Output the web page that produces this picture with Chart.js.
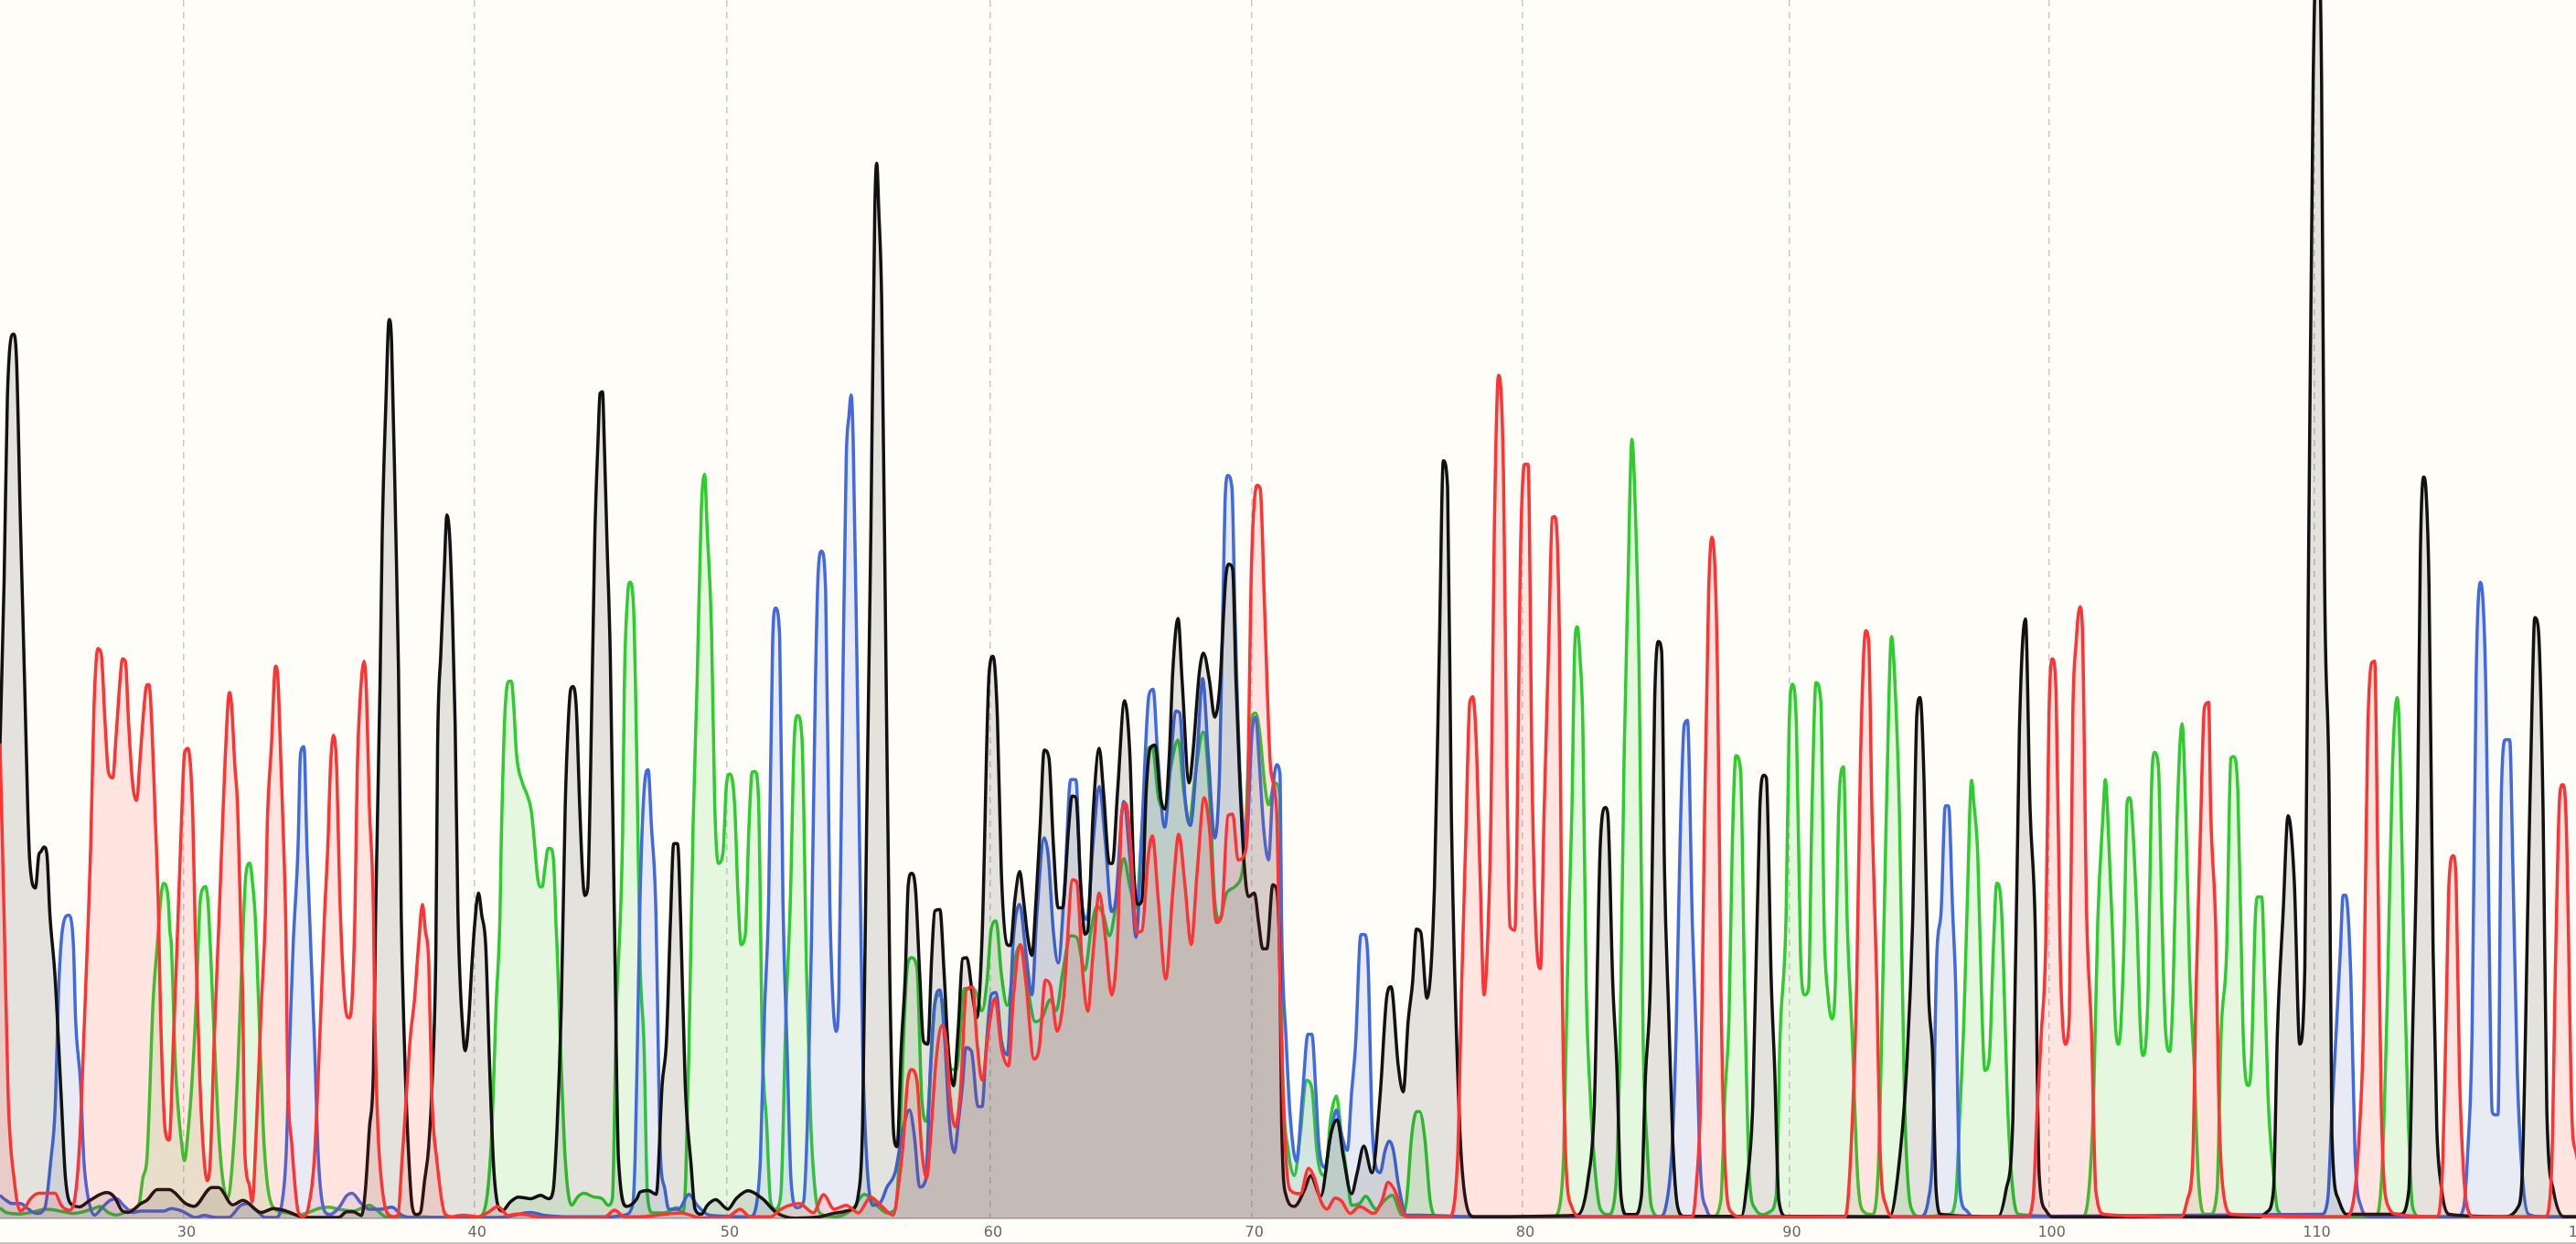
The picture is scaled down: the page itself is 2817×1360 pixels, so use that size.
<!DOCTYPE html>
<html>
<head>
<meta charset="utf-8">
<title>Chromatogram</title>
<script src="https://cdn.jsdelivr.net/npm/chart.js@4"></script>
<style>
    html, body { margin: 0; padding: 0; width: 2817px; height: 1360px; overflow: hidden; background: #fffdf7; }
    #chromatogram { display: block; position: absolute; left: 0; top: 0; }
    #foot { position: absolute; left: 0; bottom: 0; width: 2817px; height: 2px; background: #c4c4c4; }
</style>
</head>
<body>
<canvas id="chromatogram" width="2857" height="1360"></canvas>
<div id="foot"></div>
<script>
// base numbers under the trace, sequencer spacing is not even
const tickLabels = ['30', '40', '50', '60', '70', '80', '90', '100', '110', '120'];
const tickScans = [111.8, 288.7, 442.4, 602.7, 761.7, 926.6, 1088.8, 1247, 1408.3, 1570];

// [scan, signal], one list per dye
const blackTrace = [
    [0,288],[2.5,387.6],[4.5,499.5],[8.2,538],[10,524],[12.4,425],[13.7,375],[15,325.6],[17,246],[18.1,217.5],[21.6,201],[23.6,221],[24.8,223],[26.8,226],[28.6,221],[30.3,186],[33.5,147],[37.3,73],[39.8,25],[44.2,8],
    [48.4,7],[54.7,11],[65,15.7],[69.6,13],[74.5,4.5],[78,3.6],[85.7,9],[89.4,11],[95.7,17.5],[103,17.5],[113,9],[118,7.3],[129,18.8],[133,18.8],[141.6,8.2],[147.8,11],[159,3.6],[166.5,6],[174,4.5],[186,0.5],[206,0.5],[211,4],[215,4],[220,1.7],[222.4,17.5],
    [224.8,54.6],[227.3,92],[228.6,184.5],[231.3,325.5],[232.6,415],[234.8,494.5],[236.8,547],[238.3,534],[240.8,422],[242.5,335.5],[244.2,184.5],[246,110],[248.4,45],[251,6.4],[253.4,2.3],[255.9,3.6],[258.4,23],[260.9,43.5],[263.4,92],[265.3,166],
    [266.3,286],[268.3,344],[270.3,392.6],[272,428],[273.8,412.5],[275.3,370],[277,300.7],[278.7,186],[282,110],[283.2,102],[285.2,119.6],[287,151],[288.7,176.5],[291.2,198],[293.2,184.5],[295.6,166],[298,92],[300.6,28.6],[305.6,4.5],
    [310.6,10],[315.5,13],[323,12],[329,14],[334,12],[336.6,16.6],[339,54.6],[341.6,129],[344,251],[345.8,300.7],[347.3,321.8],[348.8,323.6],[350.8,309.4],[352.8,251],[354.5,211],[355.8,196.4],[357.7,201.3],[359.5,276],[362,415],[364,474.6],[365.2,502],[366.7,503],[367.7,474.6],[369.4,412.5],[371.4,343],[373.9,184.5],[376.4,36],[381.4,7.3],[387.6,12],
    [389.5,16],[394.5,17],[399.4,14.6],[403,81.6],[405.6,108],[408,180],[410,228],[412.4,228],[414.3,180],[417,82],[420.6,32.5],[423,5.6],[426.8,2.5],[430.5,8],[435.5,11.4],[443,5.6],[448,12],[455.3,16.8],[464,12],[472.7,3.4],[484,0.2],[499,1],[508.8,3.4],[518.7,5.6],[522.4,14.6],[525,59],[527.4,238],[530,417],[532.4,614],[533.6,642],[534.8,614],[536.6,558],[539.3,328],[541.5,149],[544,50.3],[546,43.6],
    [548.5,104],[551,149],[552.7,202],[554.7,210],[557.2,200],[559.7,149],[562,108],[564.7,106],[567,158],[568.9,187],[572,188],[574.6,149],[577,104],[580.3,80.7],[583.3,117.4],[585.8,158],[588.3,158.6],[592,135],[594.5,122],[597.7,171],[602,332],[604.4,342],[607,305],[609.4,211],[613,166.6],[615,166],[617.6,193.4],[620.6,211],[623,193],[625.5,171],[628,160],[630.5,193.4],[633,238],[635.5,285],[638.4,280],[641,229],[644,189],[646.6,189],[650.4,238],[652.4,257],[654.8,256],[657.8,202],[660.3,173],[662,175],[665.3,247],[669,286],[671.5,260.5],[675.2,216],[677,216],[680.2,260.5],[684.4,315],[687.6,283],[690,211],[692.6,191],[695,193.4],[697.6,260.5],[700,286],[703,288],[706.3,256],[708.8,249],[711.7,283],[713.7,332],[717,365],[719.4,327.6],[723.7,265],[726,283],[729.9,332],[732.4,344],[736,327.6],[739.3,305],[742.3,323],[746,390],[748,398],[750.2,395],[752.2,327.6],[754.2,274],[757.2,216],[759.7,195.7],[763.4,198],[766,180],[768.5,164],[771,164],[774.6,203],[777,200],[779,149],
    [780,58.4],[782.7,14],[787.7,7.3],[794,17.5],[797.6,26],[803.8,13.5],[810,51.6],[813.8,60],[817.5,38],[822.5,15],[826,27.8],[830,44],[835,27.8],[840,75.5],[844,135],[846.6,141],[851,92.5],[854,77],[857,120],[859.7,143.6],[862,176],[864.7,174],[868.4,134],[873,201.5],[876,348],[878.4,461],[881,445],[883.3,246],[888.3,58],[892,10.7],[897,1],
    [960,2],[966.6,24.4],[970.3,68.6],[974,229],[977,250],[978.5,246],[981.5,143.6],[984,92.5],[986.5,14],[990,2.3],[995,2.3],[999,14],[1001.4,86],[1004.6,150.4],[1007,314],[1009.3,351],[1011.3,344.6],[1013,212],[1015.5,126.6],[1018,48],[1021,7],[1025,1.2],[1059.7,1.2],[1063.5,24.4],[1066.7,68.6],[1071,249],[1073.4,269.7],[1075,268],[1078,143.6],[1080,92.5],[1082.6,10.7],[1087,1.2],
    [1150,1],[1156.6,41.4],[1160.4,92.5],[1164,180],[1166.6,307],[1168.6,317],[1171,265],[1173.7,138],[1176.2,99],[1178.3,17],[1181.3,2.5],[1216,1],[1220.8,17],[1225,60],[1229,297],[1232.7,364.6],[1235.5,249],[1238.6,179],[1241,27],[1245,5],[1248.7,1],
    [1375,1],[1379.8,4],[1383.6,17],[1386,113],[1389.5,186],[1392.5,245],[1396.3,205],[1399.6,106],[1402.7,152],[1405,403],[1407.8,693],[1410.3,780],[1412.9,693],[1414.7,393],[1417.5,258],[1419.2,51],[1423,12],[1428,2.5],
    [1461,2.5],[1466,17],[1468.3,113],[1471.4,258],[1473,403],[1475,451],[1476.5,442],[1478.3,384],[1480.8,162],[1483,56],[1485.4,22],[1490.5,2.5],[1524.8,1],[1532.5,7],[1535,27],[1538.8,210],[1541.4,331],[1542.6,365.5],[1544.7,360],[1547.7,249],[1550,65],[1554,17],[1560.5,1],[1590,1]
];

const redTrace = [
    [0,289],[2.5,184],[5,73],[8.7,23],[12.4,4.5],[15,6.4],[18.6,12],[23.6,15.3],[33.5,15.3],[37.3,8],[42,5],[44.7,8],[48.4,45],[51,110],[53.5,176],[55.2,226],[57.2,311],[59.6,346.7],[61.6,343.4],[64,300.7],[66,271.4],[68.6,268],[70.8,295.7],[73.3,330.5],[74.5,340.5],[76.3,339],[78.3,300.7],[80.7,264.7],[83.2,254.3],[85,276],[87.5,309.4],[89.4,324.8],[90.7,324.8],[92.4,300.7],[94.4,246],[96.4,189],[97.6,129],[99.4,73],[100.6,53],[103,47.6],[105.6,110],[108,173],[110.6,246],[112.3,283],[114.3,286],[117.3,246],[118.8,176],[121.7,82.5],[124.2,36],[126.2,23],[128,36],[130.4,110],[133.4,184.5],[135.4,238.6],[137.1,280.8],[139.6,320],[140.9,313],[142.9,276],[144.6,251],[146.6,176],[147.8,129],[149,40],[151.6,21],[153.5,10],[156,54.6],[159,129],[161.5,184.5],[162.7,241],[165.2,288],[167.7,336],[169,330.5],[171,276],[172.7,226],[174,176],[175,92],[177.6,45],[181.4,4.5],[184.6,1],[187.6,6.4],[191.3,36],[195,119.6],[197.5,184.5],[199.5,226],[201.2,276],[203,294],[205,271],[206.7,200],[208.7,150],[210.7,125],[212.4,122],[214.2,132.5],[216,184.5],[217.4,270.9],[219,313],[221.6,339],[223,320.6],[224.8,251],[227.3,186],[228,129],[230,54.6],[232.3,21],[236,2.7],[239.8,1],[242.2,2],[244.7,36],[246,54.6],[249.7,110],[252.2,132.5],[254.7,166],[257.1,191],[258.9,175],[260.9,156.6],[262.9,73],[265.8,36],[270.8,2.7],[274.5,1],[282,2],[290.7,1],[297,3.6],[303,7.3],[309.3,1.8],[314.3,2.7],[321.7,2],[330.4,0.5],[367.7,0.5],[374,5],[380,1],[389.5,1],
    [414.3,3.4],[426.8,0.3],[443,1],[450.4,5.6],[456.6,1],[469,1],[475.2,5.6],[486.4,9],[495,3.4],[501.3,14.5],[507.5,5.6],[515,8],[522.4,3.4],[529.9,13],[536,8],[543.5,2],[547.3,23.5],[549.7,46],[552.2,81.6],[554.7,90.6],[558,84],[561,41.4],[564,24.4],[566.4,50],[569.6,95],[573.3,117.4],[575.8,108],[578.3,72.7],[581.3,55.7],[584.5,77],[588.3,139.8],[592,140.7],[594.5,108.5],[597.7,84],[602,117.4],[605.6,134],[609.4,104],[613.8,92.8],[616.8,135],[621,166.6],[624.3,144],[629.3,97],[632.5,104],[636.2,145],[639.2,142],[643.4,113.8],[647.4,135],[652.8,206],[655.3,204.6],[659,148.7],[662,126],[665.3,162],[669,198],[672.7,171],[676.5,136],[680.2,171],[682.7,247],[685.2,252.5],[687.6,233.7],[692,174],[695,175],[698.8,220],[701.3,232.8],[705,193],[709.5,145.6],[713.7,198],[717.4,233.7],[721.2,202.4],[724.9,166.6],[728.6,211],[732.9,256],[736,238],[740.3,180],[743.5,184.5],[747.3,245],[750.2,246],[753.5,218],[758.4,225],[761.7,399],[765.1,446],[767,444],[769.6,372],[773.3,274],[777,247],[779,143.6],
    [781.5,58],[785,17.5],[791.4,15],[796.4,30.5],[800,24.4],[803.8,10.7],[807.6,5.6],[812.5,12.4],[816.3,10.7],[821.7,3],[827.4,7.3],[836,3],[841,10.7],[844.8,22],[848.6,17.5],[856,1],[882,1],[887,34.6],[889.6,143.6],[892,229],[894.5,314],[896.3,317.4],[898.3,293.5],[900.7,212],[903.2,136],[905.7,178],[907.4,246],[909.4,416],[912,513],[915,453.7],[917,280],[919,177.7],[921.9,175.3],[925.6,416],[928,458.8],[930,458.8],[932.5,263],[935.5,162],[937.5,152],[939.7,246],[942.5,348],[944.7,426.4],[946,427],[949.2,341],[950.4,177.7],[953,34.6],[956.6,7],[961.6,1],
    [1030,1],[1032.4,21],[1035,75.5],[1037.4,246],[1039.9,382],[1041.9,414.5],[1045.3,331],[1047.3,143.6],[1049.8,34.6],[1053.5,4],[1059.7,1],[1123,1],[1126.8,48],[1130,143.6],[1132.3,280],[1135.5,357.6],[1137.3,351],[1139.3,246],[1142.2,143.6],[1144.2,41.4],[1148,7.3],[1153,1],
    [1233.5,1],[1237.3,12],[1239.8,65],[1242.4,113.6],[1245,166.7],[1247,306.6],[1249,340.4],[1251.3,321],[1253.8,162],[1255.1,123],[1256.9,106],[1259.4,123],[1261.5,306.6],[1263.5,350],[1265.8,372],[1267.3,360],[1269.9,186],[1272.9,113.6],[1275.5,17],[1280.6,2.5],
    [1327.6,1],[1331.4,12],[1334.5,36],[1336.5,138],[1339,229],[1341.6,311],[1344.2,314],[1345.4,248.7],[1348.5,176],[1350.5,65],[1353,17],[1358.2,2.5],[1428,1],[1433.2,17],[1435.8,51],[1438.3,113.6],[1440.9,292],[1443.4,338],[1445.2,339],[1447.2,210],[1449.3,65],[1453.6,7],[1458.7,2.5],
    [1482.8,1],[1486.7,36],[1488.7,123],[1490.5,205],[1493,220.7],[1494.8,205],[1496.8,89.5],[1499.4,26.7],[1502,5],[1505.7,1],[1549,1],[1552.8,27],[1555.4,162],[1557.9,258],[1559.7,264],[1561.7,244],[1565.5,56],[1567.6,41],[1575,5],[1590,1]
];

const blueTrace = [
    [0,14],[3.7,11],[7.5,9],[12.4,9],[17.4,5.5],[22.4,3],[27.3,6.4],[31,36],[33.5,65.8],[36,147],[38.5,179],[41.7,184.5],[44.7,166],[46,121.4],[49,82.5],[51,36],[53.4,14],[57.6,2],[62,6.4],[67,11],[70.8,12],[75.8,7.3],[80.7,3.6],[85.7,4.5],[99.4,4.5],[104.3,6],[110.6,4.5],[119.3,0.5],[124.2,1.8],[131.7,0.5],[139,0.5],[146.6,8],[150.3,9],[156.5,4.5],[161.5,0.5],[167.7,0.5],[171.4,8],[174,36],[176.4,110],[178.4,166],[181.4,226],[182.9,283],[185,287],[186.8,226],[191.3,110],[193.8,36],[197.5,4.5],[200.7,2.3],[206.2,6.4],[211.2,14],[214.2,15.3],[219.9,9],[224.8,5.5],[231,5.5],[238.5,6.8],[244.7,1.8],[253.4,0.5],[293,0.5],[308,1],[323,3.6],[330.4,2],[347.8,1],[372.7,1],[380,2],[385,8],[386.5,36],[388,110],[389.5,193],[392,260.5],[394.5,273],[396.5,238],[399,193],[402,37],[404.4,19],[407,5.6],[413,5.6],[419.3,14.6],[424.3,8],[431.7,2],[456.6,1],[460.3,8],[462.8,37],[465.3,126],[467.8,193],[470.2,350],[472,371.4],[474.5,354.5],[476.5,193],[479,104],[481.4,23.5],[485,6.5],[489,10],[491.4,59],[493.9,171],[496.3,327.6],[498,394],[500,406],[502.5,381],[505,193],[506.8,135],[508.8,113.8],[510.5,135],[513,327.6],[515,461.8],[516.7,488.6],[518,501],[519.2,475],[521.7,327.6],[525,104],[527.4,37],[531.1,8],[536,10],[539.8,19],[544.8,28],[547.3,41.4],[549.7,55],[553.5,66],[556.5,50],[559.7,19],[563.4,23.5],[566.4,95],[569.6,135],[572,139],[575,108],[577.8,59],[580.8,40],[583.3,59],[585.8,81.6],[587.8,104],[591.2,101.8],[595.2,68],[597.7,68],[600.2,104],[603.2,136],[606.2,137.5],[609.4,108.5],[613,99.5],[616.8,171],[620.6,191],[624.3,162],[628,136],[631,184.5],[635.5,231.5],[638,220],[641,175.5],[644,155.4],[647.9,202],[651.6,267],[654.8,267],[657.8,198],[661.5,182],[665.3,229],[669,262.8],[672.7,229],[676.5,186.7],[679,193.4],[684,253.8],[687.6,220],[691.4,171],[695,238],[699.3,318.7],[701.8,322],[704.5,283],[708.8,238],[712.5,278.4],[715.5,308.8],[718,307.5],[721.2,256],[724.4,239],[728.6,283],[731.9,328.5],[735.3,283],[739.3,231.5],[742.3,274],[745.5,435],[747.3,452],[749.8,444],[751.5,372],[754.7,269.5],[758.4,229],[762,296],[764.2,305],[766.6,274],[769,238],[772,218],[774.6,260.5],[777,276],[779,270],
    [780,177.7],[782.7,109.5],[785,65],[789,34.6],[792.7,75.5],[796,112],[798.4,112],[800.9,75.5],[802.6,45],[806.3,31],[810,51.6],[813.3,66],[816.3,51.6],[820,41.4],[822.5,75.5],[825,106],[828.2,172.6],[830.4,172.6],[832.4,160.6],[835,58.4],[837.4,31],[839.9,27.8],[843,41.4],[845.6,47],[848,41.4],[851,21],[856,2],[863.5,2],[895.8,1],
    [1010,1],[1013.8,7],[1017.5,41],[1020,109.5],[1022.5,229],[1025,300],[1027,303],[1030,177.7],[1032.4,109.5],[1035,27.8],[1038.6,5.6],[1042.4,1],[1168.6,1],[1173.7,12],[1176.2,41],[1178.8,162],[1181.3,186],[1183.9,251],[1185.9,251],[1188.4,186],[1190.2,142.5],[1192.8,17],[1196.6,5],[1200.4,1],
    [1412.9,2.5],[1416.7,12],[1419.2,65],[1421.8,113.6],[1424.3,162],[1426,196.6],[1427.6,196.6],[1430.7,147],[1433.2,41],[1437,7],[1442,1],[1495.6,1],[1499.4,7],[1501.9,41],[1504.5,113.6],[1507,331],[1509.6,387],[1512.9,321],[1514.7,186],[1516.7,65],[1518.5,63],[1520.3,63],[1522.3,258],[1524.8,291.2],[1527.4,291.2],[1529.4,210],[1532,89.5],[1535,27],[1538.8,2.5],[1547.7,1],[1590,1]
];

const greenTrace = [
    [0,6.4],[3.7,3.6],[12.4,2.7],[18.6,3.6],[28.6,5.5],[41,3.6],[44.7,3],[57.1,6],[60.9,7.3],[65.8,3.6],[70.8,2],[79.5,5],[84.5,8.2],[87,25],[89.4,36],[93.2,132.5],[95.7,166],[97.8,193.9],[99.4,203.8],[100.6,203.3],[102.6,191],[103.3,176],[104.3,166],[106.8,92],[110.6,45],[112.3,35],[114.3,51],[116.8,82.5],[119.3,129],[121.7,191.4],[123.7,201],[125,202],[126.7,191.4],[127.5,176],[128,166],[130.4,110],[133,54.6],[135.4,25],[138.6,12],[141.6,36],[144.8,92],[148.3,184.5],[149.6,208.8],[152,216.2],[154,201],[155.3,184.5],[157.8,119.6],[160.2,54.6],[162.7,21],[166.5,6.4],[174,3.6],[181.4,2],[187.6,3.6],[193.8,6],[200,6.8],[206.2,5.5],[215,4.5],[224.8,8],[230,4.5],[234.8,1],[248.4,0.5],[258.4,1],[265.8,0.5],[288.2,0.5],[293.2,1.8],[296.9,17.5],[299.4,54.6],[301.9,129],[304.3,184.5],[305,226],[307.6,313],[310,326.8],[311.3,326.8],[312.6,313],[314.3,283],[318,264.7],[320.5,258.5],[323.5,247],[325.5,226],[327,208.8],[328.5,201.8],[330,201.8],[331.7,213.7],[333.6,225],[335,225],[337,216.2],[338.5,176],[339,166],[341.6,92],[344,36],[347.8,8],[351.5,13],[355.3,15.3],[361.5,13],[366.5,12],[370.2,8],[372.7,12],[375.2,129],[377.6,184.5],[378.9,233.6],[380,325.5],[382,379],[383.4,387],[385.6,371.5],[387.6,276],[389.5,157.7],
    [392,104],[394,14.6],[397,3.4],[404.4,3.4],[411.9,6.5],[415.6,3.4],[417.3,23.5],[419.3,104],[421.8,238],[424.3,327.6],[426.8,430.5],[428.8,452.8],[430.5,417],[433,359],[435,251.6],[437.2,216],[440,222.5],[442.2,265],[444.2,270.4],[447.1,251.6],[449.1,198],[451,166.6],[453.6,173],[455.8,238],[457.8,271.7],[459.6,271.7],[461.6,256],[464,104],[466.5,59],[469,10],[472,5.6],[475.2,14.6],[478.4,126.4],[481,193.4],[483.4,291.8],[485.4,306],[488.1,291.8],[490.9,148.7],[493.4,59],[496.3,14.6],[500,2.5],[508.8,1],[518.7,5.6],[526.1,14.6],[533.6,8],[539.8,3.4],[544.8,5.6],[547.3,37],[549.7,104],[552.2,153],[554.7,158.6],[558,153],[561,72.7],[564,59],[566.4,90.6],[568.9,131],[572,136],[575.8,117.4],[578.8,90.6],[582,90.6],[587,139.8],[593.2,139],[597.7,126.4],[600.7,144.3],[603.2,175.6],[606.2,181],[609.4,148.7],[613,129.5],[617.6,157.7],[621,166.6],[625.5,139.8],[630,119.6],[634.2,122],[639.2,133],[642.9,126.4],[646.6,148.7],[651.6,172],[655.3,171],[660.3,151],[664,175.6],[667.8,190],[671.5,184.5],[675.2,172],[679,189],[684,219],[687.6,202],[691.4,189],[694.6,229],[698.8,286],[701.3,287],[705,256],[708.8,249.4],[712.5,274],[717,291],[720.4,260.5],[723.7,240.4],[727.4,269.5],[732.3,296],[736,260.5],[739.3,193.4],[742.3,182],[746.5,198],[752.2,202.4],[757.2,220],[761,300.8],[764.2,307.5],[766.6,296],[769.6,265],[772,251.6],[775.8,265],[779,256],
    [780.2,109.5],[784,41.4],[787.7,26],[791.4,51.6],[795,84],[798.4,79],[801.4,41.4],[803.8,27.8],[806.3,26],[810,62],[813.3,74.4],[816.3,51.6],[820,24.4],[822.5,8],[827.4,9],[831.2,13.5],[837.4,5.6],[842.4,10.7],[847.3,14],[853.5,2],[856,10.7],[859.3,51.6],[862.2,65],[864,65],[867.2,48],[870.4,10.7],[874.7,1],
    [945.5,1],[949.2,7.3],[951.7,41.4],[954.2,160.6],[956.6,246],[958.4,348],[959.9,360],[961.6,341],[963.3,300],[965.3,143.6],[967.8,75.5],[970.3,34.6],[974,5.6],[979,2.3],[983.2,17.5],[986,109.5],[988.4,280],[990.7,382],[993.2,474],[995.2,433],[997.6,331],[1000,109.5],[1002.6,41.4],[1005,7.3],[1010,1],[1042.4,1],[1047.3,10.7],[1049.8,75.5],[1052.3,123],[1054.3,229],[1056.5,281.6],[1059.3,273],[1061.7,143.6],[1064.7,24.4],[1068.4,5.6],[1073.4,2.3],[1077,4],[1081,14],[1083.3,109.5],[1087,184.5],[1088.8,297],[1090.8,325],[1093.3,300],[1095.8,160.6],[1098.3,136],[1100.7,140],[1102.7,246],[1105.2,326],[1108.2,314],[1110.2,177.7],[1112.4,136.8],[1115,121.5],[1117,143.6],[1118.9,246],[1121.9,274.8],[1124.3,177.7],[1127.3,109.5],[1130.6,24.4],[1134.3,4],[1139.3,2.3],[1143,27.8],[1145.5,126.6],[1148,246],[1151.2,354],[1153,331],[1156,246],[1159,75.5],[1162.9,7],[1168.6,1],
    [1186.4,2.5],[1190.2,12],[1192.8,65],[1195.3,123],[1197.1,186],[1199.9,266.6],[1201.2,253.5],[1203.7,220],[1206.3,123],[1208,90],[1210.6,96.7],[1213.1,162],[1215.2,204],[1216.4,203],[1218.2,186],[1222,65],[1225,17],[1228.4,2.5],[1267.8,1],[1271.7,22],[1274.2,75],[1276.7,181],[1279.8,244],[1281.3,267],[1282.6,248.7],[1285.6,176],[1287.4,118.4],[1289.5,106],[1292.5,162],[1294.6,253.5],[1295.8,256],[1297.1,251],[1300.2,191],[1302.7,113.6],[1304,99],[1307.3,137.7],[1309.3,258],[1311,283.5],[1313.6,275],[1315.7,186],[1318,113.6],[1320.5,101.5],[1322.5,137.7],[1325,244],[1328,301],[1330.2,248.7],[1332.7,147],[1335.3,94],[1337.8,27],[1341.6,2.5],[1345.4,2.5],[1349.3,17],[1351.8,113.6],[1355.1,162],[1357.7,280],[1359.4,281],[1362,258.4],[1365,118.4],[1366.3,89.5],[1368.3,80.8],[1370.1,94],[1372.7,186],[1374.2,195.6],[1376.5,195.6],[1378.5,137.7],[1380.3,75],[1383.6,27],[1386.2,5],[1392.5,1],[1446,1],[1449.8,31.5],[1453,137.7],[1456,273],[1459,317],[1460.7,282.5],[1463,162],[1465.5,65],[1468.3,7],[1472.7,1],[1590,1]
];

function traceDataset(label, trace, color, fillColor) {
    return {
        label: label,
        data: trace.map(function (p) { return { x: p[0], y: p[1] }; }),
        borderColor: color,
        backgroundColor: fillColor,
        borderWidth: 3.5,
        borderJoinStyle: 'round',
        pointRadius: 0,
        cubicInterpolationMode: 'monotone',
        fill: 'origin'
    };
}

document.addEventListener('DOMContentLoaded', function () {
    let ctx = document.getElementById('chromatogram').getContext('2d');
    new Chart(ctx, {
        type: 'line',
        data: {
            // first dataset ends up on top
            datasets: [
                traceDataset('T', redTrace, '#ff3333', 'rgba(255,48,48,0.12)'),
                traceDataset('G', blackTrace, '#111111', 'rgba(30,30,30,0.12)'),
                traceDataset('C', blueTrace, '#4169e1', 'rgba(65,105,225,0.12)'),
                traceDataset('A', greenTrace, '#2ecc2e', 'rgba(46,204,46,0.12)')
            ]
        },
        options: {
            responsive: false,
            animation: false,
            devicePixelRatio: 1,
            layout: { padding: 0 },
            plugins: { legend: { display: false }, title: { display: false }, tooltip: { enabled: false } },
            scales: {
                x: {
                    type: 'linear',
                    min: 0,
                    max: 1590,
                    afterBuildTicks: function (scale) {
                        scale.ticks = tickScans.map(function (v) { return { value: v }; });
                    },
                    afterFit: function (scale) { scale.height = 28; },
                    border: { color: '#c4c4c4', width: 2, dash: [7, 6] },
                    grid: { color: '#c8c8c8', lineWidth: 1.5, drawTicks: false },
                    ticks: {
                        autoSkip: false,
                        maxRotation: 0,
                        minRotation: 0,
                        labelOffset: 3,
                        padding: 6,
                        color: '#666666',
                        font: { family: 'DejaVu Sans', size: 16 },
                        callback: function (value, index) { return tickLabels[index]; }
                    }
                },
                y: {
                    display: false,
                    min: 0,
                    max: 741.3
                }
            }
        }
    });
});
</script>
</body>
</html>
